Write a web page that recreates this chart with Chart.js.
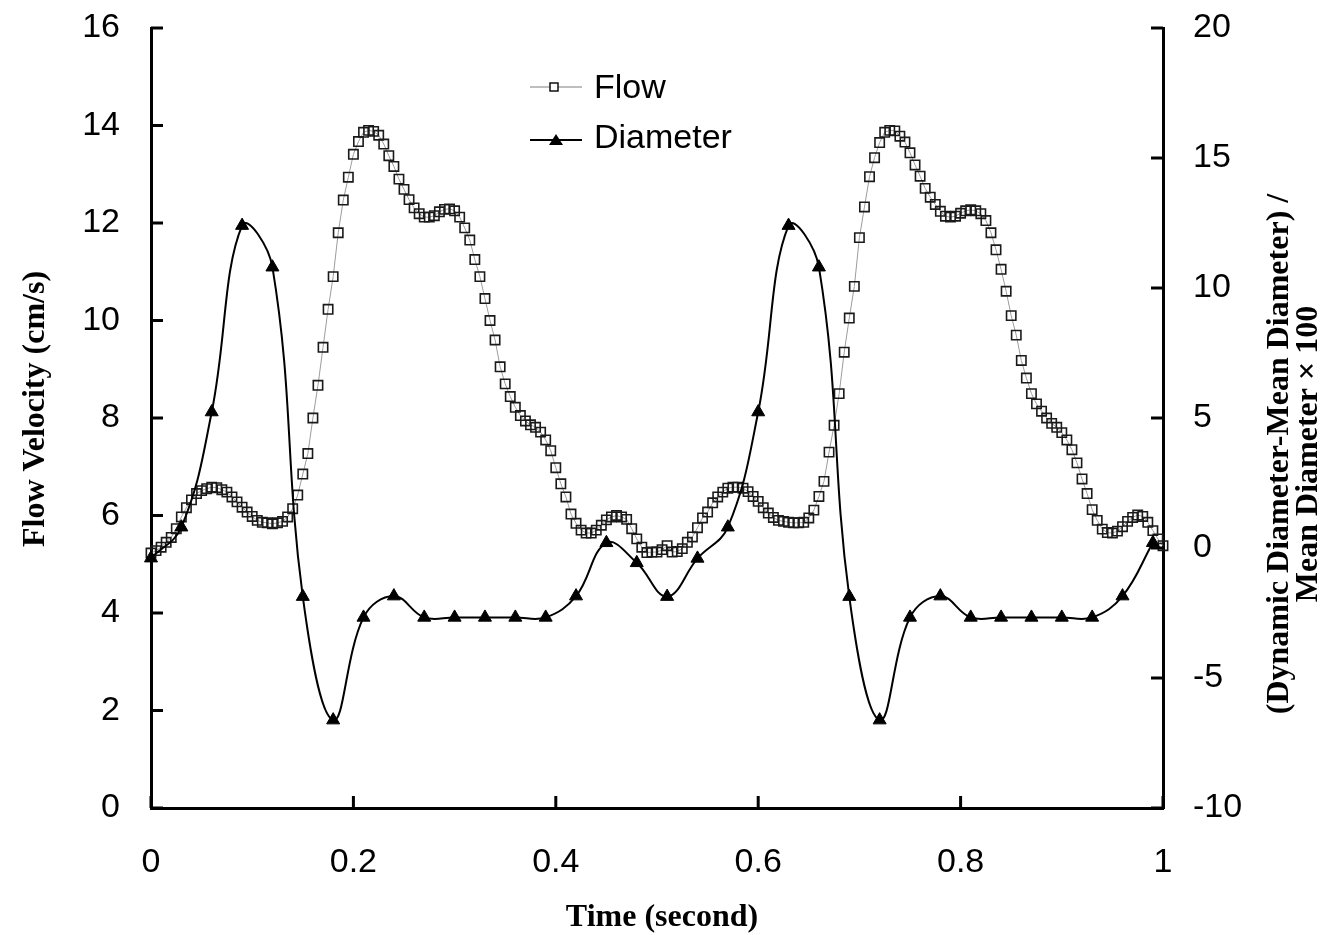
<!DOCTYPE html>
<html>
<head>
<meta charset="utf-8">
<title>Flow velocity and diameter</title>
<script src="https://cdn.jsdelivr.net/npm/chart.js@4.4.1/dist/chart.umd.min.js"></script>
<style>
  html, body { margin: 0; padding: 0; background: #fff; }
  #wrap { width: 1337px; height: 935px; }
</style>
</head>
<body>
<div id="wrap"><canvas id="chart" width="1337" height="935"></canvas></div>
<script>
// Flow velocity (cm/s), sampled every 0.005 s
const FLOW_TIME = [
  0, 0.005, 0.01, 0.015, 0.02, 0.025, 0.03, 0.035, 0.04, 0.045,
  0.05, 0.055, 0.06, 0.065, 0.07, 0.075, 0.08, 0.085, 0.09, 0.095,
  0.1, 0.105, 0.11, 0.115, 0.12, 0.125, 0.13, 0.135, 0.14, 0.145,
  0.15, 0.155, 0.16, 0.165, 0.17, 0.175, 0.18, 0.185, 0.19, 0.195,
  0.2, 0.205, 0.21, 0.215, 0.22, 0.225, 0.23, 0.235, 0.24, 0.245,
  0.25, 0.255, 0.26, 0.265, 0.27, 0.275, 0.28, 0.285, 0.29, 0.295,
  0.3, 0.305, 0.31, 0.315, 0.32, 0.325, 0.33, 0.335, 0.34, 0.345,
  0.35, 0.355, 0.36, 0.365, 0.37, 0.375, 0.38, 0.385, 0.39, 0.395,
  0.4, 0.405, 0.41, 0.415, 0.42, 0.425, 0.43, 0.435, 0.44, 0.445,
  0.45, 0.455, 0.46, 0.465, 0.47, 0.475, 0.48, 0.485, 0.49, 0.495,
  0.5, 0.505, 0.51, 0.515, 0.52, 0.525, 0.53, 0.535, 0.54, 0.545,
  0.55, 0.555, 0.56, 0.565, 0.57, 0.575, 0.58, 0.585, 0.59, 0.595,
  0.6, 0.605, 0.61, 0.615, 0.62, 0.625, 0.63, 0.635, 0.64, 0.645,
  0.65, 0.655, 0.66, 0.665, 0.67, 0.675, 0.68, 0.685, 0.69, 0.695,
  0.7, 0.705, 0.71, 0.715, 0.72, 0.725, 0.73, 0.735, 0.74, 0.745,
  0.75, 0.755, 0.76, 0.765, 0.77, 0.775, 0.78, 0.785, 0.79, 0.795,
  0.8, 0.805, 0.81, 0.815, 0.82, 0.825, 0.83, 0.835, 0.84, 0.845,
  0.85, 0.855, 0.86, 0.865, 0.87, 0.875, 0.88, 0.885, 0.89, 0.895,
  0.9, 0.905, 0.91, 0.915, 0.92, 0.925, 0.93, 0.935, 0.94, 0.945,
  0.95, 0.955, 0.96, 0.965, 0.97, 0.975, 0.98, 0.985, 0.99, 0.995,
  1
];
const FLOW_VELOCITY = [
  5.23, 5.28, 5.35, 5.45, 5.55, 5.73, 5.97, 6.16, 6.32, 6.45,
  6.51, 6.55, 6.58, 6.57, 6.53, 6.48, 6.38, 6.28, 6.17, 6.07,
  5.98, 5.90, 5.86, 5.85, 5.83, 5.85, 5.88, 5.97, 6.14, 6.42,
  6.85, 7.27, 8.00, 8.67, 9.45, 10.23, 10.90, 11.80, 12.47, 12.94,
  13.41, 13.67, 13.86, 13.90, 13.88, 13.80, 13.62, 13.38, 13.16, 12.90,
  12.69, 12.48, 12.31, 12.19, 12.12, 12.12, 12.15, 12.23, 12.28, 12.29,
  12.25, 12.12, 11.90, 11.65, 11.25, 10.90, 10.45, 10.00, 9.60, 9.05,
  8.70, 8.44, 8.22, 8.05, 7.94, 7.86, 7.81, 7.71, 7.55, 7.33,
  6.98, 6.65, 6.38, 6.03, 5.84, 5.70, 5.64, 5.64, 5.70, 5.80,
  5.91, 5.97, 6.00, 5.97, 5.92, 5.73, 5.52, 5.35, 5.24, 5.25,
  5.25, 5.30, 5.38, 5.25, 5.26, 5.32, 5.45, 5.56, 5.75, 5.95,
  6.07, 6.26, 6.38, 6.48, 6.56, 6.58, 6.58, 6.56, 6.49, 6.39,
  6.29, 6.16, 6.05, 5.96, 5.90, 5.88, 5.86, 5.85, 5.85, 5.86,
  5.95, 6.11, 6.39, 6.70, 7.30, 7.85, 8.50, 9.35, 10.05, 10.70,
  11.70, 12.33, 12.95, 13.34, 13.65, 13.86, 13.90, 13.89, 13.78, 13.66,
  13.44, 13.19, 12.96, 12.71, 12.53, 12.38, 12.24, 12.14, 12.12, 12.14,
  12.20, 12.25, 12.27, 12.25, 12.19, 12.05, 11.80, 11.45, 11.05, 10.60,
  10.10, 9.70, 9.18, 8.82, 8.50, 8.29, 8.14, 8.00, 7.89, 7.81,
  7.70, 7.55, 7.35, 7.08, 6.75, 6.45, 6.12, 5.90, 5.72, 5.65,
  5.64, 5.68, 5.77, 5.88, 5.96, 6.01, 5.98, 5.86, 5.69, 5.52,
  5.38
];

// Diameter change (%), sampled every 0.03 s
const DIA_TIME = [
  0, 0.03, 0.06, 0.09, 0.12, 0.15, 0.18, 0.21, 0.24, 0.27,
  0.3, 0.33, 0.36, 0.39, 0.42, 0.45, 0.48, 0.51, 0.54, 0.57,
  0.6, 0.63, 0.66, 0.69, 0.72, 0.75, 0.78, 0.81, 0.84, 0.87,
  0.9, 0.93, 0.96, 0.99
];
const DIA_CHANGE = [
  -0.39, 0.8, 5.23, 12.4, 10.8, -1.87, -6.62, -2.67, -1.85, -2.67,
  -2.67, -2.67, -2.67, -2.67, -1.85, 0.2, -0.57, -1.87, -0.4, 0.8,
  5.23, 12.4, 10.8, -1.87, -6.62, -2.67, -1.85, -2.67, -2.67, -2.67,
  -2.67, -2.67, -1.85, 0.2
];

const SERIES_NAMES = ['Flow', 'Diameter'];
const X_TITLE = 'Time (second)';
const Y_TITLE = 'Flow Velocity (cm/s)';
const Y2_TITLE = ['(Dynamic Diameter-Mean Diameter) /', 'Mean Diameter \u00d7 100'];

const SANS = '"Liberation Sans", Arial, sans-serif';
const SERIF = '"Liberation Serif", "Times New Roman", serif';
const tickFont = { family: SANS, size: 34 };
const TICK_LEN = 12;

// titles, inward tick marks and the legend box
const decorPlugin = {
  id: 'decor',
  afterDraw(chart) {
    const ctx = chart.ctx;
    const area = chart.chartArea;
    const sx = chart.scales.x, sy = chart.scales.y, sy2 = chart.scales.y2;
    ctx.save();

    // tick marks pointing into the plot
    ctx.strokeStyle = '#000';
    ctx.lineWidth = 3;
    ctx.beginPath();
    sx.ticks.forEach(t => {
      const p = sx.getPixelForValue(t.value);
      ctx.moveTo(p, area.bottom);
      ctx.lineTo(p, area.bottom - TICK_LEN);
    });
    sy.ticks.forEach(t => {
      const p = sy.getPixelForValue(t.value);
      ctx.moveTo(area.left, p);
      ctx.lineTo(area.left + TICK_LEN, p);
    });
    sy2.ticks.forEach(t => {
      const p = sy2.getPixelForValue(t.value);
      ctx.moveTo(area.right, p);
      ctx.lineTo(area.right - TICK_LEN, p);
    });
    ctx.stroke();

    // axis titles
    ctx.fillStyle = '#000';
    ctx.font = 'bold 32px ' + SERIF;
    ctx.textAlign = 'center';
    ctx.textBaseline = 'alphabetic';
    ctx.fillText(X_TITLE, 662, 926);

    ctx.save();
    ctx.translate(44, 409);
    ctx.rotate(-Math.PI / 2);
    ctx.fillText(Y_TITLE, 0, 0);
    ctx.restore();

    Y2_TITLE.forEach((line, i) => {
      ctx.save();
      ctx.translate(1288 + i * 29, 454);
      ctx.rotate(-Math.PI / 2);
      ctx.fillText(line, 0, 0);
      ctx.restore();
    });

    // legend
    ctx.font = '34px ' + SANS;
    ctx.textAlign = 'left';
    ctx.strokeStyle = '#a8a8a8';
    ctx.lineWidth = 1.5;
    ctx.beginPath();
    ctx.moveTo(530, 87);
    ctx.lineTo(582, 87);
    ctx.stroke();
    ctx.strokeStyle = '#111';
    ctx.lineWidth = 1.5;
    ctx.fillStyle = '#fff';
    ctx.fillRect(550, 83, 8, 8);
    ctx.strokeRect(550, 83, 8, 8);
    ctx.fillStyle = '#000';
    ctx.fillText(SERIES_NAMES[0], 594, 98);

    ctx.strokeStyle = '#000';
    ctx.lineWidth = 2;
    ctx.beginPath();
    ctx.moveTo(530, 140);
    ctx.lineTo(582, 140);
    ctx.stroke();
    ctx.beginPath();
    ctx.moveTo(556, 134);
    ctx.lineTo(563, 145);
    ctx.lineTo(549, 145);
    ctx.closePath();
    ctx.fill();
    ctx.fillText(SERIES_NAMES[1], 594, 148);

    ctx.restore();
  }
};

// fixed axis boxes so the plot area lands where the original has it
function fitVertical(width) {
  return s => {
    s.width = width;
    s.paddingTop = 0;
    s.paddingBottom = 0;
  };
}

new Chart(document.getElementById('chart'), {
  type: 'line',
  data: {
    datasets: [
      {
        label: SERIES_NAMES[1],
        yAxisID: 'y2',
        data: DIA_TIME.map((t, i) => ({ x: t, y: DIA_CHANGE[i] })),
        borderColor: '#000',
        borderWidth: 2,
        tension: 0.4,
        pointStyle: 'triangle',
        pointRadius: 7.5,
        pointBackgroundColor: '#000',
        pointBorderColor: '#000',
        pointBorderWidth: 1,
        order: 0,
        clip: 10
      },
      {
        label: SERIES_NAMES[0],
        yAxisID: 'y',
        data: FLOW_TIME.map((t, i) => ({ x: t, y: FLOW_VELOCITY[i] })),
        borderColor: '#9c9c9c',
        borderWidth: 1,
        tension: 0,
        pointStyle: 'rect',
        pointRadius: 6.6,
        pointBackgroundColor: 'rgba(0,0,0,0)',
        pointBorderColor: '#1a1a1a',
        pointBorderWidth: 1.6,
        order: 1,
        clip: 10
      }
    ]
  },
  options: {
    responsive: false,
    animation: false,
    layout: { padding: { top: 28, left: 0, right: 0, bottom: 0 } },
    plugins: {
      legend: { display: false },
      tooltip: { enabled: false }
    },
    scales: {
      x: {
        type: 'linear',
        min: 0,
        max: 1,
        ticks: {
          stepSize: 0.2,
          padding: 34,
          color: '#000',
          font: tickFont,
          callback: v => String(Math.round(v * 10) / 10)
        },
        grid: { display: false, drawTicks: false },
        border: { display: true, color: '#000', width: 3 },
        afterFit: s => { s.height = 127; s.paddingLeft = 0; s.paddingRight = 0; }
      },
      y: {
        position: 'left',
        min: 0,
        max: 16,
        ticks: { stepSize: 2, padding: 31, color: '#000', font: tickFont },
        grid: { display: false, drawTicks: false },
        border: { display: true, color: '#000', width: 3 },
        afterFit: fitVertical(151)
      },
      y2: {
        position: 'right',
        min: -10,
        max: 20,
        ticks: { stepSize: 5, padding: 30, color: '#000', font: tickFont },
        grid: { display: false, drawTicks: false },
        border: { display: true, color: '#000', width: 3 },
        afterFit: fitVertical(174)
      }
    }
  },
  plugins: [decorPlugin]
});
</script>
</body>
</html>
